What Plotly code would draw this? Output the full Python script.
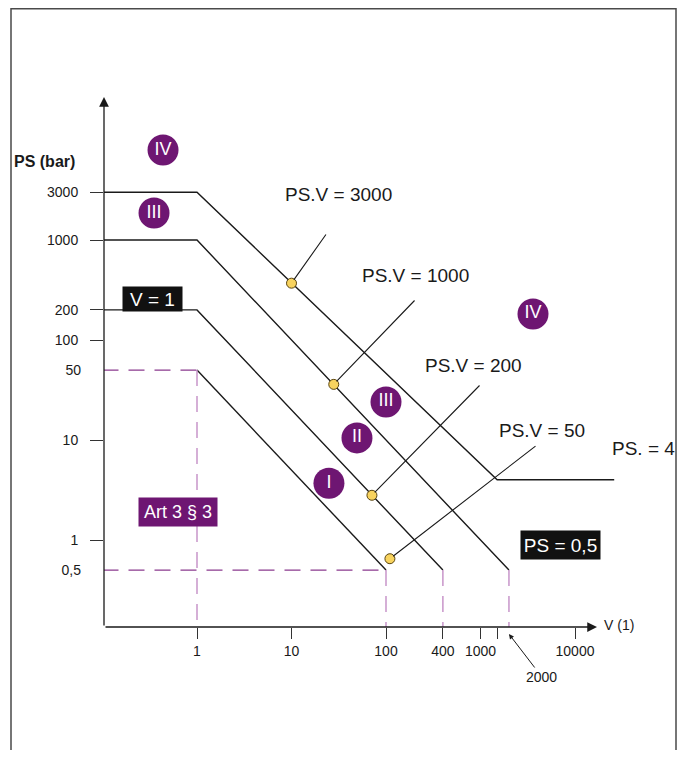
import plotly.graph_objects as go
import math

# ---------------- data ----------------
# Boundary lines (V in litres, PS in bar)
line_D_V = [0.1, 1, 1500, 26000]
line_D_PS = [3000, 3000, 4, 4]
line_C_V = [0.1, 1, 2000]
line_C_PS = [1000, 1000, 0.5]
line_B_V = [0.1, 1, 400]
line_B_PS = [200, 200, 0.5]
line_A_V = [1, 100]
line_A_PS = [50, 0.5]

# dashed limits
dash_h_V = [[0.1, 1], [0.1, 100]]
dash_h_PS = [[50, 50], [0.5, 0.5]]
dash_v_V = [[1, 1], [100, 100], [400, 400], [2000, 2000]]
dash_v_PS = [[50, 0.1], [0.5, 0.1], [0.5, 0.1], [0.5, 0.1]]

# callout dots
dot_V = [10, 28, 71, 110]
dot_PS = [370, 36, 2.8, 0.65]
dot_labels = ["PS.V = 3000", "PS.V = 1000", "PS.V = 200", "PS.V = 50"]

# category circles
cat_labels = ["IV", "III", "IV", "III", "II", "I"]
cat_V = [0.437, 0.351, 3594, 100, 49.3, 24.9]
cat_PS = [7943, 1862, 182, 24, 10.5, 3.7]

# axis ticks
x_tickvals = [1, 10, 100, 400, 1000, 1500, 10000]
x_ticktext = ["1", "10", "100", "400", "1000", "", "10000"]
y_tickvals = [1, 10, 100, 200, 1000, 3000]
y_ticktext = ["1", "10", "100", "200", "1000", "3000"]
y2_tickvals = [0.5, 50]
y2_ticktext = ["0,5", "50"]

# ---------------- styling ----------------
FONT = "Liberation Sans, Arial, Helvetica, sans-serif"
BLACK = "#1a1a1a"
PURPLE = "#6e1672"
DASH_H = "#8a3a8e"
DASH_V = "#c48ec6"

OFF = 8  # page body margin
W, H = 685 - 2 * OFF, 758 - 2 * OFF
ML, MT = 96, 82
MR = W - (620 - OFF)
MB = H - (627 - OFF)
PW, PH = W - ML - MR, H - MT - MB


def px(xr_):
    """reference-picture x pixel -> paper coordinate"""
    return (xr_ - OFF - ML) / PW


def py(yr_):
    """reference-picture y pixel -> paper coordinate"""
    return (H - MB - (yr_ - OFF)) / PH


xr = (-0.9841, 4.4762)
yr = (-0.87, 4.5)


def data_to_ref_px(v, p):
    xx = OFF + ML + (math.log10(v) - xr[0]) / (xr[1] - xr[0]) * PW
    yy = OFF + MT + (yr[1] - math.log10(p)) / (yr[1] - yr[0]) * PH
    return xx, yy


fig = go.Figure()

for V, P in [(line_D_V, line_D_PS), (line_C_V, line_C_PS), (line_B_V, line_B_PS), (line_A_V, line_A_PS)]:
    fig.add_trace(go.Scatter(x=V, y=P, mode="lines", line=dict(color=BLACK, width=1.4),
                             hoverinfo="skip"))

for V, P in zip(dash_h_V, dash_h_PS):
    fig.add_trace(go.Scatter(x=V, y=P, mode="lines",
                             line=dict(color=DASH_H, width=1.4, dash="16px,10px"), hoverinfo="skip"))
for V, P in zip(dash_v_V, dash_v_PS):
    fig.add_trace(go.Scatter(x=V, y=P, mode="lines",
                             line=dict(color=DASH_V, width=1.4, dash="16px,10px"), hoverinfo="skip"))

fig.add_trace(go.Scatter(x=cat_V, y=cat_PS, mode="markers+text", text=cat_labels,
                         textposition="middle center",
                         textfont=dict(family=FONT, size=18, color="white"),
                         marker=dict(size=31, color=PURPLE, line=dict(width=0)),
                         hoverinfo="skip"))

fig.add_trace(go.Scatter(x=dot_V, y=dot_PS, mode="markers", yaxis="y2",
                         marker=dict(size=10, color="#f8d35e", line=dict(color="#5a4510", width=1)),
                         hoverinfo="skip"))

annotations = []
leader_ends = [(327, 233), (416, 299), (481, 384), (537, 445)]
label_pos = [(338, 195), (415, 275), (473, 365), (542, 430)]

for v, p, (ex, ey), lab, (lx, ly) in zip(dot_V, dot_PS, leader_ends, dot_labels, label_pos):
    dx, dy = data_to_ref_px(v, p)
    annotations.append(dict(x=math.log10(v), y=math.log10(p), xref="x", yref="y", text="",
                            showarrow=True, arrowhead=0, arrowwidth=1.1, arrowcolor=BLACK,
                            ax=ex - dx, ay=ey - dy, standoff=4))
    annotations.append(dict(x=px(lx), y=py(ly), xref="paper", yref="paper", text=lab,
                            xanchor="center", yanchor="middle",
                            showarrow=False, font=dict(family=FONT, size=19, color=BLACK)))

other = [
    dict(x=px(44), y=py(161), text="<b>PS (bar)</b>", font=dict(family=FONT, size=16, color=BLACK)),
    dict(x=px(643), y=py(448), text="PS. = 4", font=dict(family=FONT, size=19, color=BLACK)),
    dict(x=px(619), y=py(625), text="V (1)", font=dict(family=FONT, size=14, color=BLACK)),
    dict(x=px(152), y=py(299), text="V = 1", font=dict(family=FONT, size=19, color="white"),
         bgcolor="#111111", width=59, height=24, borderpad=0),
    dict(x=px(560), y=py(545), text="PS = 0,5", font=dict(family=FONT, size=19, color="white"),
         bgcolor="#111111", width=79, height=28, borderpad=0),
    dict(x=px(178), y=py(512), text="Art 3 § 3", font=dict(family=FONT, size=18, color="white"),
         bgcolor=PURPLE, width=78, height=28, borderpad=0),
]
for a in other:
    a.update(xref="paper", yref="paper", showarrow=False, xanchor="center", yanchor="middle")
annotations += other

# 2000 label with arrow
annotations.append(dict(x=math.log10(2000), xref="x", y=py(634), yref="paper", text="2000",
                        font=dict(family=FONT, size=14, color=BLACK), showarrow=True,
                        arrowhead=2, arrowsize=1, arrowwidth=1, arrowcolor=BLACK, ax=33, ay=43))

# axes drawn as arrows
annotations.append(dict(x=px(597), y=0, xref="paper", yref="paper", text="", showarrow=True,
                        arrowhead=2, arrowsize=1.5, arrowwidth=1.3, arrowcolor=BLACK,
                        ax=-(597 - OFF - ML), ay=0))
annotations.append(dict(x=0, y=py(97), xref="paper", yref="paper", text="", showarrow=True,
                        arrowhead=2, arrowsize=1.5, arrowwidth=1.3, arrowcolor=BLACK,
                        ax=0, ay=(H - MB) - (97 - OFF)))

shapes = [dict(type="rect", xref="paper", yref="paper", x0=px(11), x1=px(676), y0=py(800), y1=py(8.8),
               line=dict(color="#4a4a4a", width=1.5), fillcolor="rgba(0,0,0,0)", layer="below")]

tickfont = dict(family=FONT, size=14, color=BLACK)
fig.update_layout(
    width=W, height=H, margin=dict(l=ML, r=MR, t=MT, b=MB),
    paper_bgcolor="white", plot_bgcolor="white", showlegend=False,
    annotations=annotations, shapes=shapes,
    xaxis=dict(type="log", range=list(xr), showgrid=False, zeroline=False, showline=False,
               ticks="outside", ticklen=11, tickwidth=1.2, tickcolor="#333",
               tickmode="array", tickvals=x_tickvals, ticktext=x_ticktext, tickfont=tickfont),
    yaxis=dict(type="log", range=list(yr), showgrid=False, zeroline=False, showline=False,
               ticks="outside", ticklen=13, tickwidth=1.2, tickcolor="#333",
               tickmode="array", tickvals=y_tickvals, ticktext=y_ticktext, tickfont=tickfont,
               ticklabelstandoff=9),
    yaxis2=dict(type="log", range=list(yr), overlaying="y", side="left", anchor="x",
                showgrid=False, zeroline=False, showline=False, ticks="",
                tickmode="array", tickvals=y2_tickvals, ticktext=y2_ticktext, tickfont=tickfont,
                ticklabelstandoff=22),
)

fig.write_html("out.html")
